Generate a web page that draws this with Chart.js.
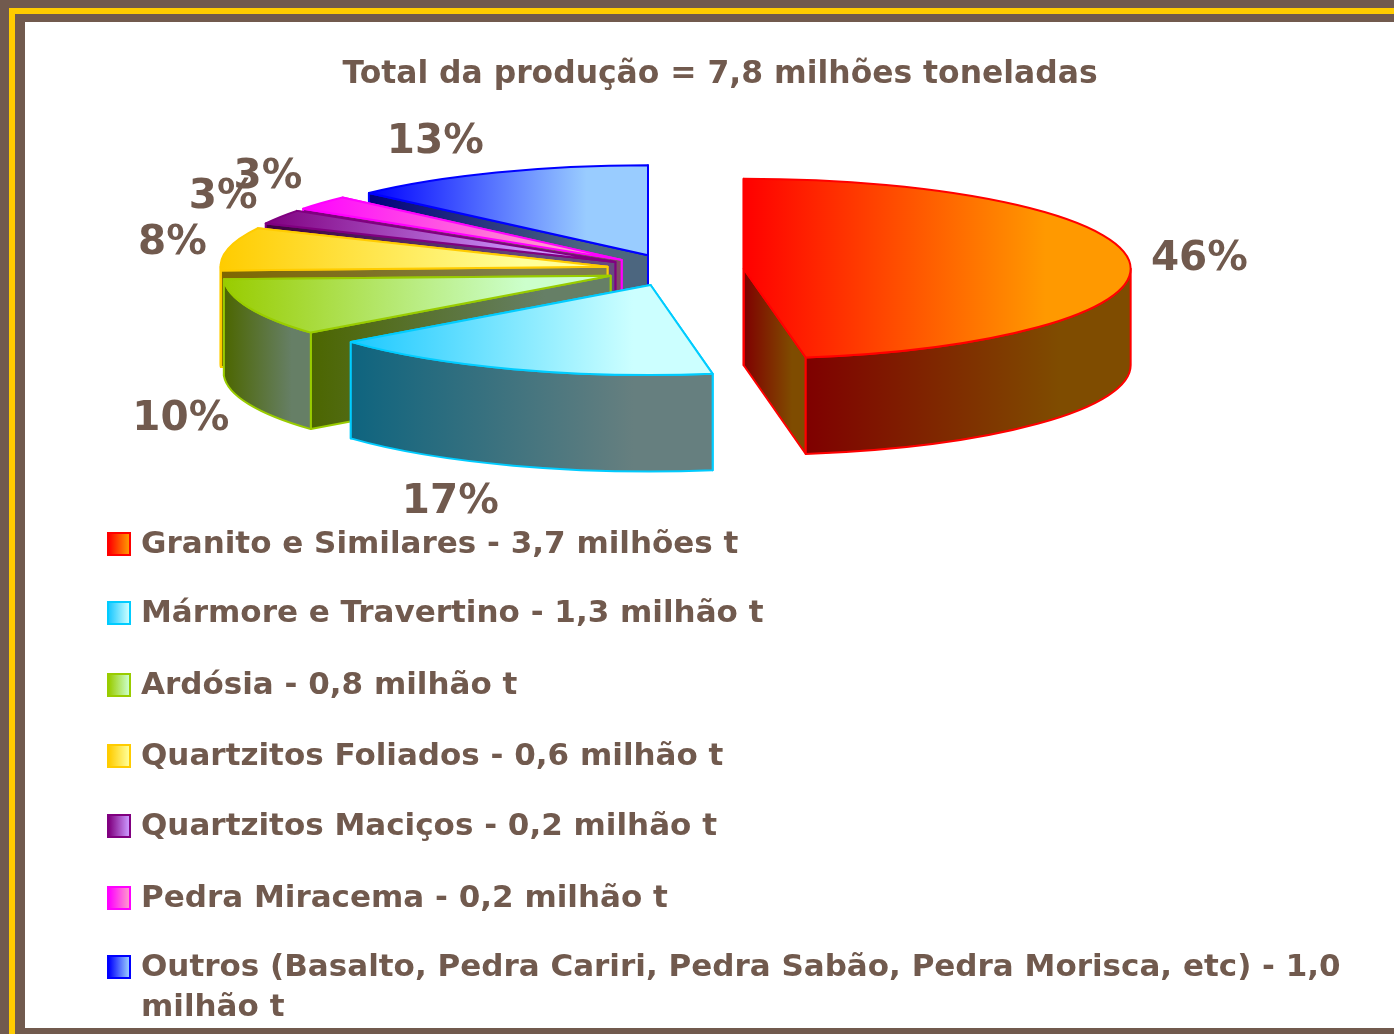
<!DOCTYPE html>
<html lang="pt-BR">
<head>
<meta charset="utf-8">
<title>Total da produção</title>
<script src="https://cdn.jsdelivr.net/npm/chart.js@4"></script>
<style>
  html, body { margin: 0; height: 100%; background: #715a4e; overflow: hidden; }
  .gold  { position: absolute; left: 9px;  top: 8px;  right: 0; bottom: 0; background: #ffcc00; }
  .inner { position: absolute; left: 15px; top: 14px; right: 0; bottom: 0; background: #715a4e; }
  .paper { position: absolute; left: 25px; top: 22px; right: 0; bottom: 6px; background: #fff; }
  #pieChart { position: absolute; left: 0; top: 0; }
  #legend { position: absolute; left: 0; top: 0; margin: 0; padding: 0; list-style: none;
            font: bold 31px/40px "DejaVu Sans", sans-serif; color: #715a4e; }
  #legend li { position: absolute; left: 141px; width: 1235px; }
  #legend i { position: absolute; left: -34px; top: 10px; width: 20px; height: 20px; border: 2px solid; }
</style>
</head>
<body>
<div class="gold"></div>
<div class="inner"></div>
<div class="paper"></div>
<canvas id="pieChart" width="1394" height="1034"></canvas>
<ul id="legend"></ul>

<script>
// dados
const categories = [
  'Granito e Similares - 3,7 milhões t',
  'Mármore e Travertino - 1,3 milhão t',
  'Ardósia - 0,8 milhão t',
  'Quartzitos Foliados - 0,6 milhão t',
  'Quartzitos Maciços - 0,2 milhão t',
  'Pedra Miracema - 0,2 milhão t',
  'Outros (Basalto, Pedra Cariri, Pedra Sabão, Pedra Morisca, etc) - 1,0 milhão t'
];
const tonnes = [3.7, 1.3, 0.8, 0.6, 0.2, 0.2, 1.0];
const percentLabels = ['46%', '17%', '10%', '8%', '3%', '3%', '13%'];
const chartTitle = 'Total da produção = 7,8 milhões toneladas';

// estilo
const edgeColors = ['#ff0000', '#00ccff', '#99cc00', '#ffcc00', '#800080', '#ff00ff', '#0000ff'];
const fromColors = ['#ff0000', '#1cc8ff', '#99cc00', '#ffcc00', '#800080', '#ff00ff', '#0000ff'];
const toColors   = ['#ff9900', '#ccffff', '#ccffcc', '#ffff99', '#cc99ff', '#ff99cc', '#99ccff'];
const labelNudges = [[70, -2], [-63, 133], [-68, 112], [-56, -5], [-57, -20], [-54, -25], [-61, -30]];
const legendTops = [522, 591, 663, 734, 804, 876, 945];

const TEXT_COLOR = '#715a4e';
const PIE_X = 675, PIE_Y = 270;   // centro antes de explodir
const RX = 387, RY = 90, DEPTH = 96.5;
const EXPLODE = 0.178;            // fração do raio
const PIE_RADIUS = 200;           // raio do arco no Chart.js, antes de achatar
const FADE_END = 0.78;            // o degradê termina antes da borda direita

// metade do brilho para as paredes laterais
function shade(hex) {
  const n = parseInt(hex.slice(1), 16);
  return `rgb(${(n >> 16) >> 1},${((n >> 8) & 255) >> 1},${(n & 255) >> 1})`;
}

function hGradient(ctx, x1, x2, from, to) {
  const g = ctx.createLinearGradient(x1, 0, x2, 0);
  g.addColorStop(0, from);
  g.addColorStop(FADE_END, to);
  g.addColorStop(1, to);
  return g;
}

function rimPoint(c, t, drop = 0) {
  return { x: c.x + RX * Math.cos(t), y: c.y + RY * Math.sin(t) + drop };
}

function sliceCentre(arc) {
  const mid = (arc.startAngle + arc.endAngle) / 2;
  return { x: PIE_X + RX * EXPLODE * Math.cos(mid), y: PIE_Y + RY * EXPLODE * Math.sin(mid) };
}

function rimRange(c, t0, t1) {
  let lo = Infinity, hi = -Infinity;
  for (let k = 0; k <= 40; k++) {
    const x = rimPoint(c, t0 + (t1 - t0) * k / 40).x;
    lo = Math.min(lo, x);
    hi = Math.max(hi, x);
  }
  return [lo, hi];
}

// parede reta entre o centro e a borda
function drawCutWall(ctx, c, t, i) {
  const p = rimPoint(c, t);
  ctx.beginPath();
  ctx.moveTo(c.x, c.y);
  ctx.lineTo(p.x, p.y);
  ctx.lineTo(p.x, p.y + DEPTH);
  ctx.lineTo(c.x, c.y + DEPTH);
  ctx.closePath();
  ctx.fillStyle = hGradient(ctx, Math.min(c.x, p.x), Math.max(c.x, p.x), shade(fromColors[i]), shade(toColors[i]));
  ctx.fill();
  ctx.stroke();
}

// parede curva, só na metade da frente
function drawRimWall(ctx, c, arc, i) {
  const t0 = Math.max(arc.startAngle, 0), t1 = Math.min(arc.endAngle, Math.PI);
  if (t1 <= t0) return;
  const [x1, x2] = rimRange(c, t0, t1);
  ctx.beginPath();
  ctx.ellipse(c.x, c.y, RX, RY, 0, t0, t1);
  ctx.ellipse(c.x, c.y + DEPTH, RX, RY, 0, t1, t0, true);
  ctx.closePath();
  ctx.fillStyle = hGradient(ctx, x1, x2, shade(fromColors[i]), shade(toColors[i]));
  ctx.fill();
  ctx.stroke();
}

const pie3d = {
  id: 'pie3d',
  beforeDatasetDraw(chart) {
    const ctx = chart.ctx;
    const arcs = chart.getDatasetMeta(0).data;
    // de trás para a frente
    for (let i = arcs.length - 1; i >= 0; i--) {
      const arc = arcs[i];
      const c = sliceCentre(arc);
      let [x1, x2] = rimRange(c, arc.startAngle, arc.endAngle);
      x1 = Math.min(x1, c.x);
      x2 = Math.max(x2, c.x);

      ctx.save();
      ctx.lineWidth = 2;
      ctx.lineJoin = 'round';
      ctx.strokeStyle = edgeColors[i];
      drawCutWall(ctx, c, arc.endAngle, i);
      drawCutWall(ctx, c, arc.startAngle, i);
      drawRimWall(ctx, c, arc, i);

      // face de cima: o próprio arco do Chart.js, achatado
      const sx = arc.outerRadius / RX;
      const toLocal = x => arc.x + (x - c.x) * sx;
      const opts = arc.options;
      arc.options = { ...opts, backgroundColor: hGradient(ctx, toLocal(x1), toLocal(x2), fromColors[i], toColors[i]) };
      ctx.save();
      ctx.translate(c.x, c.y);
      ctx.scale(RX / arc.outerRadius, RY / arc.outerRadius);
      ctx.translate(-arc.x, -arc.y);
      arc.draw(ctx);
      ctx.restore();
      arc.options = opts;

      ctx.beginPath();
      ctx.moveTo(c.x, c.y);
      ctx.ellipse(c.x, c.y, RX, RY, 0, arc.startAngle, arc.endAngle);
      ctx.closePath();
      ctx.stroke();
      ctx.restore();
    }
    return false;
  },
  afterDatasetsDraw(chart) {
    const ctx = chart.ctx;
    ctx.save();
    ctx.font = 'bold 40.5px "DejaVu Sans", sans-serif';
    ctx.fillStyle = TEXT_COLOR;
    ctx.textAlign = 'center';
    ctx.textBaseline = 'middle';
    chart.getDatasetMeta(0).data.forEach((arc, i) => {
      const p = rimPoint(sliceCentre(arc), (arc.startAngle + arc.endAngle) / 2);
      ctx.fillText(percentLabels[i], p.x + labelNudges[i][0], p.y + labelNudges[i][1]);
    });
    ctx.restore();
  }
};

const chart = new Chart(document.getElementById('pieChart').getContext('2d'), {
  type: 'pie',
  data: {
    labels: categories,
    datasets: [{ data: tonnes, backgroundColor: fromColors, borderWidth: 0 }]
  },
  options: {
    responsive: false,
    animation: false,
    events: [],
    radius: PIE_RADIUS,
    layout: { padding: { left: 46 } },
    plugins: {
      legend: { display: false },
      tooltip: { enabled: false },
      title: {
        display: true,
        text: chartTitle,
        color: TEXT_COLOR,
        font: { family: '"DejaVu Sans", sans-serif', size: 31.4, weight: 'bold', lineHeight: 1.2 },
        padding: { top: 56, bottom: 0 }
      }
    }
  },
  plugins: [pie3d]
});

// legenda em HTML, feita a partir dos dados do gráfico
const legend = document.getElementById('legend');
chart.data.labels.forEach((label, i) => {
  const li = document.createElement('li');
  li.style.top = legendTops[i] + 'px';
  const box = document.createElement('i');
  box.style.borderColor = edgeColors[i];
  box.style.background = `linear-gradient(to right, ${fromColors[i]}, ${toColors[i]})`;
  li.appendChild(box);
  li.appendChild(document.createTextNode(label));
  legend.appendChild(li);
});
</script>
</body>
</html>
